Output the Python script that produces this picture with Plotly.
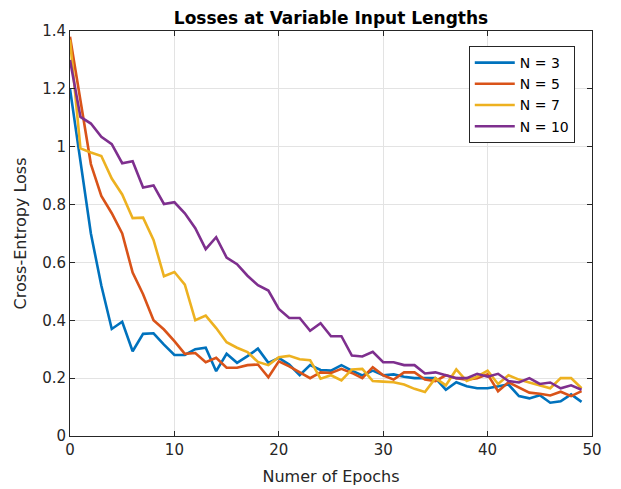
import plotly.graph_objects as go

epochs = list(range(50))

loss_n3 = [1.20, 0.95, 0.70, 0.52, 0.37, 0.395, 0.293, 0.353, 0.355, 0.316,
           0.28, 0.28, 0.30, 0.305, 0.224, 0.284, 0.253, 0.276, 0.302, 0.253,
           0.27, 0.247, 0.21, 0.245, 0.228, 0.226, 0.245, 0.226, 0.209, 0.226,
           0.21, 0.213, 0.205, 0.20, 0.20, 0.20, 0.16, 0.186, 0.172, 0.165,
           0.165, 0.172, 0.178, 0.138, 0.13, 0.141, 0.115, 0.12, 0.144, 0.118]

loss_n5 = [1.38, 1.16, 0.94, 0.83, 0.77, 0.70, 0.565, 0.49, 0.40, 0.368,
           0.328, 0.284, 0.287, 0.255, 0.27, 0.236, 0.236, 0.245, 0.247, 0.203,
           0.258, 0.241, 0.22, 0.20, 0.22, 0.218, 0.232, 0.218, 0.20, 0.238,
           0.21, 0.195, 0.22, 0.22, 0.195, 0.19, 0.21, 0.20, 0.195, 0.20,
           0.213, 0.155, 0.186, 0.167, 0.15, 0.146, 0.14, 0.153, 0.138, 0.155]

loss_n7 = [1.37, 0.994, 0.98, 0.968, 0.89, 0.835, 0.753, 0.755, 0.678, 0.552,
           0.567, 0.523, 0.40, 0.416, 0.373, 0.324, 0.305, 0.29, 0.256, 0.245,
           0.272, 0.277, 0.265, 0.262, 0.198, 0.21, 0.192, 0.23, 0.232, 0.19,
           0.188, 0.186, 0.178, 0.163, 0.152, 0.20, 0.175, 0.23, 0.19, 0.205,
           0.226, 0.18, 0.21, 0.195, 0.185, 0.175, 0.165, 0.20, 0.20, 0.165]

loss_n10 = [1.30, 1.103, 1.08, 1.034, 1.009, 0.943, 0.95, 0.859, 0.866, 0.802,
            0.808, 0.77, 0.718, 0.646, 0.687, 0.617, 0.594, 0.554, 0.521, 0.503,
            0.439, 0.408, 0.408, 0.364, 0.39, 0.345, 0.345, 0.278, 0.275, 0.291,
            0.255, 0.255, 0.245, 0.245, 0.216, 0.22, 0.21, 0.20, 0.20, 0.215,
            0.205, 0.215, 0.19, 0.185, 0.20, 0.18, 0.185, 0.165, 0.175, 0.16]

series_names = ["N = 3", "N = 5", "N = 7", "N = 10"]
series_values = [loss_n3, loss_n5, loss_n7, loss_n10]
series_colors = ["#0072BD", "#D95319", "#EDB120", "#7E2F8E"]

y_tickvals = [0, 0.2, 0.4, 0.6, 0.8, 1.0, 1.2, 1.4]
y_ticktext = ["0", "0.2", "0.4", "0.6", "0.8", "1", "1.2", "1.4"]
x_tickvals = [0, 10, 20, 30, 40, 50]

fig = go.Figure()
for name, vals, col in zip(series_names, series_values, series_colors):
    fig.add_trace(go.Scatter(x=epochs, y=vals, mode="lines", name=name,
                             line=dict(color=col, width=2.6)))

axis_color = "#262626"
font_family = "DejaVu Sans"

fig.update_layout(
    width=621, height=489,
    margin=dict(l=62, r=37, t=23, b=61),
    paper_bgcolor="white", plot_bgcolor="white",
    font=dict(family=font_family, size=15, color=axis_color),
    title=dict(text="<b>Losses at Variable Input Lengths</b>",
               x=0.5, xref="paper", xanchor="center",
               y=1 - 10 / 489, yanchor="middle",
               font=dict(family=font_family, size=17, color="black")),
    showlegend=True,
    legend=dict(x=0.967, y=0.963, xanchor="right", yanchor="top",
                bgcolor="white", bordercolor="#262626", borderwidth=1,
                font=dict(family=font_family, size=14, color="black"),
                tracegroupgap=0, itemwidth=40),
)

fig.update_xaxes(range=[0, 50], tickvals=x_tickvals,
                 title=dict(text="Numer of Epochs", font=dict(size=16), standoff=12),
                 showline=True, linecolor=axis_color, linewidth=1, mirror="ticks",
                 ticks="inside", ticklen=5, tickcolor=axis_color,
                 showgrid=True, gridcolor="#e3e3e3", gridwidth=1, zeroline=False)
fig.update_yaxes(range=[0, 1.4], tickvals=y_tickvals, ticktext=y_ticktext,
                 title=dict(text="Cross-Entropy Loss", font=dict(size=16), standoff=11),
                 showline=True, linecolor=axis_color, linewidth=1, mirror="ticks",
                 ticks="inside", ticklen=5, tickcolor=axis_color,
                 showgrid=True, gridcolor="#e3e3e3", gridwidth=1, zeroline=False)

fig.write_html("out.html")
